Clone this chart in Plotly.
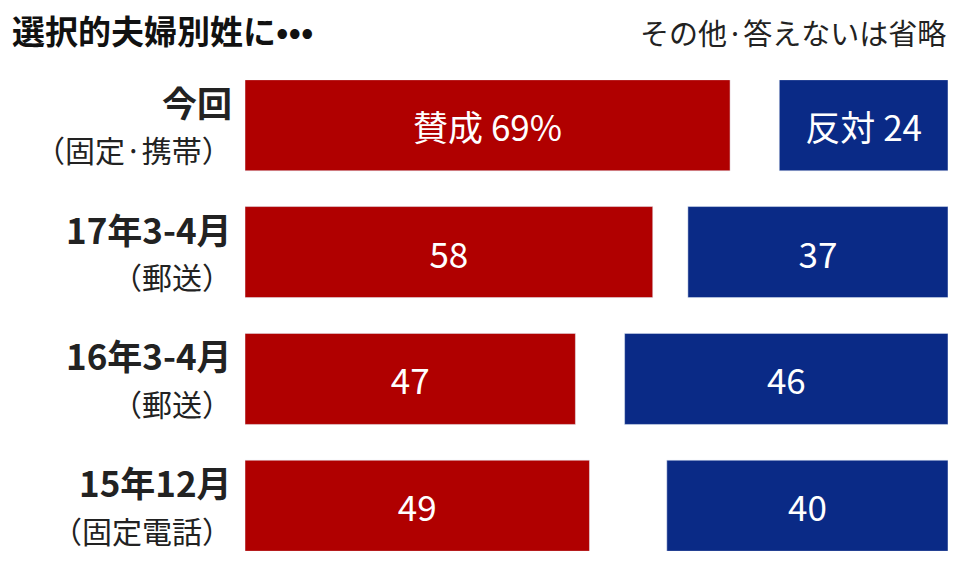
import plotly.graph_objects as go

rows = ["今回", "17年3-4月", "16年3-4月", "15年12月"]
subs = ["（固定·携帯）", "（郵送）", "（郵送）", "（固定電話）"]
agree = [69, 58, 47, 49]
oppose = [24, 37, 46, 40]
agree_txt = ["賛成 69%", "58", "47", "49"]
oppose_txt = ["反対 24", "37", "46", "40"]

FONT = "Noto Sans CJK JP"
pos = list(range(len(rows)))
PLOT_H = 471

fig = go.Figure()
fig.add_trace(go.Bar(
    y=pos, x=agree, base=0, orientation="h", width=0.718,
    marker_color="#b00000", text=agree_txt, textposition="inside",
    insidetextanchor="middle", textfont=dict(color="white", size=35, family=FONT),
    hoverinfo="skip"))
fig.add_trace(go.Bar(
    y=pos, x=oppose, base=[100 - v for v in oppose], orientation="h", width=0.718,
    marker_color="#0a2a86", text=oppose_txt, textposition="inside",
    insidetextanchor="middle", textfont=dict(color="white", size=35, family=FONT),
    hoverinfo="skip"))

for i in pos:
    fig.add_annotation(x=-0.016, xref="paper", y=i, yref="y", text="<b>%s</b>" % rows[i],
                       showarrow=False, xanchor="right", yanchor="middle", yshift=24,
                       font=dict(size=35, family=FONT, color="#222"))
    fig.add_annotation(x=-0.016, xref="paper", y=i, yref="y", text=subs[i],
                       showarrow=False, xanchor="right", yanchor="middle", yshift=-24,
                       font=dict(size=30, family=FONT, color="#222"))

fig.add_annotation(x=-235 / 703, xref="paper", y=1 + 50 / PLOT_H, yref="paper",
                   text="<b>選択的夫婦別姓に•••</b>", showarrow=False,
                   xanchor="left", yanchor="middle",
                   font=dict(size=33, family=FONT, color="#111"))
fig.add_annotation(x=1, xref="paper", y=1 + 48 / PLOT_H, yref="paper",
                   text="その他·答えないは省略", showarrow=False,
                   xanchor="right", yanchor="middle",
                   font=dict(size=29, family=FONT, color="#222"))

fig.update_layout(
    width=952, height=545, barmode="overlay", showlegend=False,
    margin=dict(l=237, r=12, t=72, b=2),
    plot_bgcolor="white", paper_bgcolor="white",
    xaxis=dict(range=[0, 100], visible=False, fixedrange=True),
    yaxis=dict(range=[3.357, -0.357], visible=False, fixedrange=True),
    uniformtext=dict(mode="show", minsize=10),
)
fig.write_html("out.html")
